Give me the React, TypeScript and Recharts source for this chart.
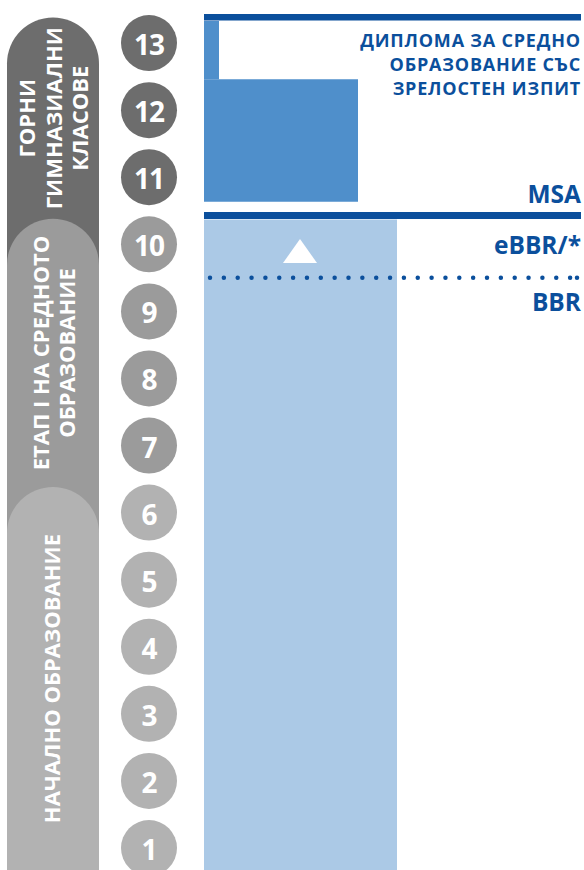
import { ComposedChart, XAxis, YAxis, Scatter, ReferenceArea, ReferenceLine, ReferenceDot } from "recharts";

// grades and school stages
const grades = [1, 2, 3, 4, 5, 6, 7, 8, 9, 10, 11, 12, 13];
const stageFirstGrade = [1, 7, 11];
const stageLastGrade = [6, 10, 13];
const stageLabels = [
	["НАЧАЛНО ОБРАЗОВАНИЕ"],
	["ЕТАП I НА СРЕДНОТО", "ОБРАЗОВАНИЕ"],
	["ГОРНИ", "ГИМНАЗИАЛНИ", "КЛАСОВЕ"],
];

// qualifications, placed on the grade scale
const diplomaLines = ["ДИПЛОМА ЗА СРЕДНО", "ОБРАЗОВАНИЕ СЪС", "ЗРЕЛОСТЕН ИЗПИТ"];
const diplomaLineGrades = [13.05, 12.69, 12.33];
const certificates = ["MSA", "eBBR/*", "BBR"];
const certificateGrades = [10.76, 9.99, 9.15];
const topLineGrade = 13.385;
const msaLineGrade = 10.43;
const bbrLineGrade = 9.5;
const upperTopGrade = 13.33;
const upperCutGrade = 12.46;
const upperBottomGrade = 10.635;
const lowerTopGrade = 10.37;
const progressionGrade = 9.9;

// layout
const W = 584;
const H = 870;
const Y_MIN = 0.672;
const Y_MAX = 13.642;
const STAGE_L = 7;
const STAGE_R = 99;
const GRADE_X = 149;
const PATH_L = 204;
const CUT_L = 219;
const UPPER_R = 358;
const LOWER_R = 397;
const RIGHT = 581;
const DOT_L = 210;
const DOT_R = 577;
const FONT = "'Open Sans', sans-serif";
const BLUE_DARK = "#0b4f9c";
const BLUE_MID = "#4f8fcb";
const BLUE_LIGHT = "#abc9e6";
const GREYS = ["#b2b2b2", "#9b9b9b", "#6d6d6d"];
const PILL_OFFSET = 0.38;

const stageOf = (g: number) => {
	for (let i = 0; i < stageFirstGrade.length; i++) {
		if (g >= stageFirstGrade[i] && g <= stageLastGrade[i]) return i;
	}
	return 0;
};

const gradeData = grades.map((g) => ({ x: GRADE_X, y: g }));

const GradeCircle = (props: any) => {
	const { cx, cy, payload } = props;
	const grade = payload.y;
	return (
		<g>
			<circle cx={cx} cy={cy} r={28} fill={GREYS[stageOf(grade)]} />
			<text
				x={cx}
				y={cy + 1}
				textAnchor="middle"
				dominantBaseline="central"
				fill="#fff"
				fontFamily={FONT}
				fontWeight={700}
				fontSize={28}
				letterSpacing={-1}>
				{grade}
			</text>
		</g>
	);
};

const makePill = (stage: number, visibleBottom: number) => (props: any) => {
	const { x, y, width, height } = props;
	const r = width / 2;
	const cx = x + width / 2 - (stageLabels[stage].length === 1 ? 2 : 0);
	const cy = (y + visibleBottom) / 2;
	const lines = stageLabels[stage];
	const step = 26.5;
	return (
		<g>
			<path
				d={`M${x},${y + r} A${r},${r} 0 0 1 ${x + width},${y + r} L${x + width},${y + height} L${x},${y + height} Z`}
				fill={GREYS[stage]}
			/>
			{lines.map((line, i) => {
				const lx = cx + (i - (lines.length - 1) / 2) * step;
				return (
					<text
						key={line}
						x={lx}
						y={cy}
						transform={`rotate(-90 ${lx} ${cy})`}
						textAnchor="middle"
						dominantBaseline="central"
						fill="#fff"
						fontFamily={FONT}
						fontWeight={700}
						fontSize={22}>
						{line}
					</text>
				);
			})}
		</g>
	);
};

const yPix = (g: number) => ((Y_MAX - g) / (Y_MAX - Y_MIN)) * H;

const Triangle = (props: any) => {
	const { cx, cy } = props;
	return <polygon points={`${cx - 17},${cy + 12} ${cx + 17},${cy + 12} ${cx},${cy - 12}`} fill="#fff" />;
};

const textLabel = (value: string, size: number, spacing = 0) => (props: any) => {
	const { viewBox } = props;
	return (
		<text
			x={viewBox.x}
			y={viewBox.y}
			textAnchor="end"
			dominantBaseline="central"
			fill={BLUE_DARK}
			fontFamily={FONT}
			fontWeight={700}
			fontSize={size}
			letterSpacing={spacing}>
			{value}
		</text>
	);
};

export default function App() {
	const pillTops = stageLastGrade.map((g) => g + PILL_OFFSET);
	return (
		<div style={{ position: "absolute", left: 0, top: 0, width: W, height: H, background: "#fff" }}>
			<ComposedChart width={W} height={H} margin={{ top: 0, right: 0, bottom: 0, left: 0 }}>
				<XAxis type="number" dataKey="x" domain={[0, W]} hide allowDataOverflow />
				<YAxis type="number" dataKey="y" domain={[Y_MIN, Y_MAX]} hide allowDataOverflow />

				{stageLabels
					.map((_, s) => s)
					.reverse()
					.map((s) => (
						<ReferenceArea
							key={`stage-${s}`}
							x1={STAGE_L}
							x2={STAGE_R}
							y1={Y_MIN}
							y2={pillTops[s]}
							ifOverflow="visible"
							shape={makePill(s, s > 0 ? yPix(pillTops[s - 1]) : H)}
						/>
					))}

				<ReferenceArea x1={PATH_L} x2={LOWER_R} y1={Y_MIN} y2={lowerTopGrade} fill={BLUE_LIGHT} fillOpacity={1} stroke="none" ifOverflow="visible" />
				<ReferenceArea x1={PATH_L} x2={UPPER_R} y1={upperBottomGrade} y2={upperCutGrade} fill={BLUE_MID} fillOpacity={1} stroke="none" />
				<ReferenceArea x1={PATH_L} x2={CUT_L} y1={upperCutGrade} y2={upperTopGrade} fill={BLUE_MID} fillOpacity={1} stroke="none" />

				<ReferenceLine
					segment={[{ x: PATH_L, y: topLineGrade }, { x: RIGHT, y: topLineGrade }]}
					stroke={BLUE_DARK}
					strokeWidth={6.5}
				/>
				<ReferenceLine
					segment={[{ x: PATH_L, y: msaLineGrade }, { x: RIGHT, y: msaLineGrade }]}
					stroke={BLUE_DARK}
					strokeWidth={7}
				/>
				<ReferenceLine
					segment={[{ x: DOT_L, y: bbrLineGrade }, { x: DOT_R, y: bbrLineGrade }]}
					stroke={BLUE_DARK}
					strokeWidth={4.5}
					strokeDasharray="0 13.85"
					strokeLinecap="round"
				/>
				<ReferenceDot x={DOT_R} y={bbrLineGrade} r={2.25} fill={BLUE_DARK} stroke="none" />

				<ReferenceDot x={300} y={progressionGrade} r={12} shape={Triangle} />

				{diplomaLines.map((line, i) => (
					<ReferenceDot
						key={line}
						x={RIGHT}
						y={diplomaLineGrades[i]}
						r={0}
						fill="none"
						stroke="none"
						label={textLabel(line, 18, 0.8)}
					/>
				))}
				{certificates.map((c, i) => (
					<ReferenceDot
						key={c}
						x={RIGHT}
						y={certificateGrades[i]}
						r={0}
						fill="none"
						stroke="none"
						label={textLabel(c, 24.5)}
					/>
				))}

				<Scatter data={gradeData} dataKey="y" shape={GradeCircle} isAnimationActive={false} />
			</ComposedChart>
		</div>
	);
}
